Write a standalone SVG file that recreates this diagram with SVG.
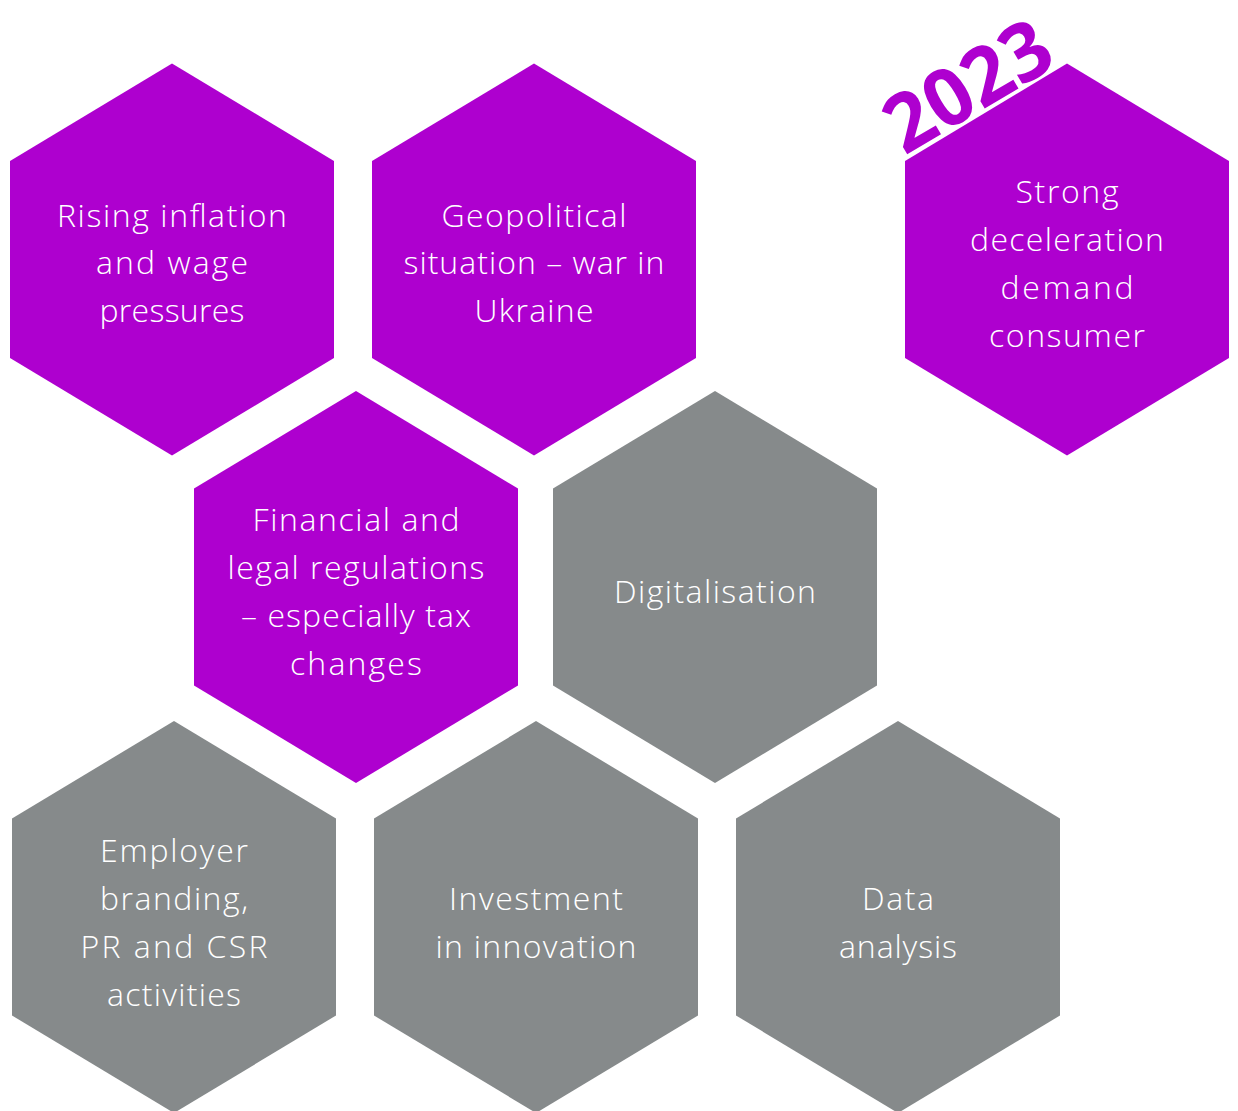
<svg xmlns="http://www.w3.org/2000/svg" xmlns:xlink="http://www.w3.org/1999/xlink" width="1238" height="1111" viewBox="0 0 1238 1111">
  <style>
    .purple { fill: #AE00CF; }
    .grey { fill: #868A8B; }
    .label { font-family: "Open Sans", "Lato", "Liberation Sans", sans-serif; font-weight: 300; font-size: 32px; fill: #FFFFFF; text-anchor: middle; }
    .year { font-family: "Open Sans", "Lato", "Liberation Sans", sans-serif; font-weight: 700; font-size: 80px; fill: #AE00CF; text-anchor: middle; }
  </style>
  <defs>
    <!-- pointy-top hexagon centred on the origin -->
    <polygon id="hex" points="0,-196 162,-98.5 162,98.5 0,196 -162,98.5 -162,-98.5"/>
  </defs>

  <rect width="1238" height="1111" fill="#FFFFFF"/>

  <g id="connectors"/>

  <g id="node-inflation">
    <use xlink:href="#hex" class="purple" x="172" y="259.5"/>
    <text class="label" x="172" y="227" textLength="230">Rising inflation</text>
    <text class="label" x="172" y="274" textLength="152">and wage</text>
    <text class="label" x="172" y="322" textLength="145">pressures</text>
  </g>

  <g id="node-geopolitics">
    <use xlink:href="#hex" class="purple" x="534" y="259.5"/>
    <text class="label" x="534" y="227" textLength="185">Geopolitical</text>
    <text class="label" x="534" y="274" textLength="261">situation – war in</text>
    <text class="label" x="534" y="322" textLength="119">Ukraine</text>
  </g>

  <g id="node-demand">
    <use xlink:href="#hex" class="purple" x="1067" y="259.5"/>
    <text class="label" x="1067" y="203" textLength="103">Strong</text>
    <text class="label" x="1067" y="251" textLength="194">deceleration</text>
    <text class="label" x="1067" y="299" textLength="133">demand</text>
    <text class="label" x="1067" y="347" textLength="156">consumer</text>
  </g>

  <g id="year-tag">
    <text class="year" transform="translate(982,110) rotate(-30.6)" textLength="180" lengthAdjust="spacingAndGlyphs">2023</text>
  </g>

  <g id="node-regulations">
    <use xlink:href="#hex" class="purple" x="356" y="587"/>
    <text class="label" x="356" y="531" textLength="207">Financial and</text>
    <text class="label" x="356" y="579" textLength="257">legal regulations</text>
    <text class="label" x="356" y="627" textLength="230">– especially tax</text>
    <text class="label" x="356" y="675" textLength="132">changes</text>
  </g>

  <g id="node-digitalisation">
    <use xlink:href="#hex" class="grey" x="715" y="587"/>
    <text class="label" x="715" y="603" textLength="202">Digitalisation</text>
  </g>

  <g id="node-branding">
    <use xlink:href="#hex" class="grey" x="174" y="917"/>
    <text class="label" x="174" y="862" textLength="148">Employer</text>
    <text class="label" x="174" y="910" textLength="148">branding,</text>
    <text class="label" x="174" y="958" textLength="187">PR and CSR</text>
    <text class="label" x="174" y="1006" textLength="134">activities</text>
  </g>

  <g id="node-innovation">
    <use xlink:href="#hex" class="grey" x="536" y="917"/>
    <text class="label" x="536" y="910" textLength="174">Investment</text>
    <text class="label" x="536" y="958" textLength="201">in innovation</text>
  </g>

  <g id="node-data">
    <use xlink:href="#hex" class="grey" x="898" y="917"/>
    <text class="label" x="898" y="910" textLength="72">Data</text>
    <text class="label" x="898" y="958" textLength="118">analysis</text>
  </g>
</svg>
